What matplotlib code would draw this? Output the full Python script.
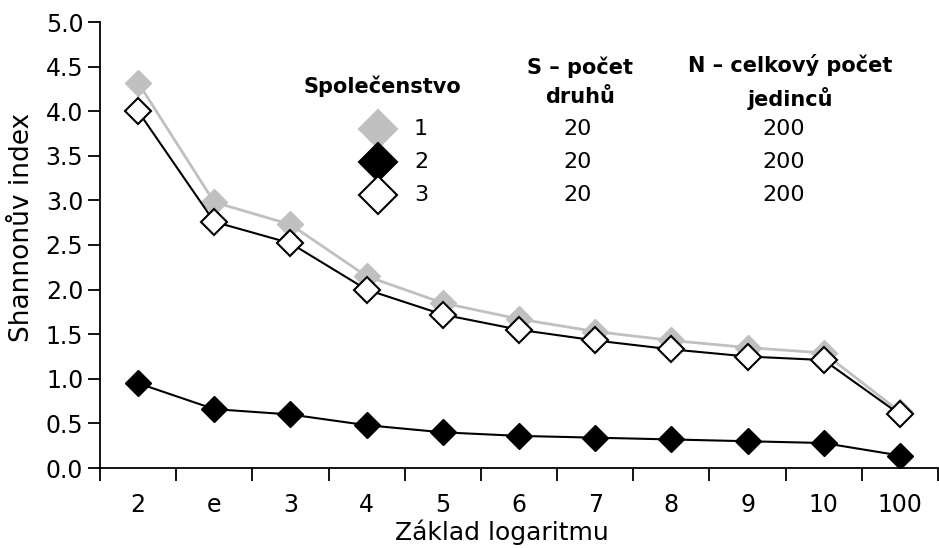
import matplotlib.pyplot as plt
from matplotlib.lines import Line2D

plt.rcParams['font.family'] = ['DejaVu Sans']

# data
bases = ['2', 'e', '3', '4', '5', '6', '7', '8', '9', '10', '100']
comm1 = [4.32, 2.98, 2.73, 2.15, 1.85, 1.67, 1.53, 1.43, 1.35, 1.29, 0.63]
comm2 = [0.95, 0.66, 0.60, 0.48, 0.40, 0.36, 0.34, 0.32, 0.30, 0.28, 0.14]
comm3 = [4.00, 2.76, 2.52, 2.00, 1.72, 1.55, 1.43, 1.33, 1.25, 1.21, 0.60]
communities = ['1', '2', '3']
species = [20, 20, 20]
individuals = [200, 200, 200]

W, H = 939, 548
fig = plt.figure(figsize=(W / 100, H / 100), dpi=100)
ax = fig.add_axes([100 / W, 1 - 468 / H, 838 / W, 446 / H])

gray = '#c0c0c0'
x = list(range(len(bases)))
ax.plot(x, comm1, color=gray, lw=2, marker='D', ms=13, mfc=gray, mec=gray, zorder=2)
ax.plot(x, comm2, color='black', lw=1.5, marker='D', ms=13, mfc='black', mec='black', zorder=3)
ax.plot(x, comm3, color='black', lw=1.5, marker='D', ms=13, mfc='white', mec='black',
        mew=1.5, zorder=4)

ax.set_xlim(-0.5, len(bases) - 0.5)
ax.set_ylim(0, 5)
ax.set_yticks([i * 0.5 for i in range(11)])
ax.set_yticklabels([f'{i * 0.5:.1f}' for i in range(11)])
ax.set_xticks(x)
ax.set_xticklabels(bases)
ax.set_xticks([i - 0.5 for i in range(len(bases) + 1)], minor=True)
ax.tick_params(axis='x', which='major', length=0, pad=18, labelsize=17)
ax.tick_params(axis='x', which='minor', length=9, width=1.3, direction='out')
ax.tick_params(axis='y', length=9, width=1.3, direction='out', labelsize=17, pad=3)
for s in ['top', 'right']:
    ax.spines[s].set_visible(False)
for s in ['left', 'bottom']:
    ax.spines[s].set_linewidth(1.3)

ax.set_ylabel('Shannonův index', fontsize=19, va='center')
ax.yaxis.set_label_coords(-78 / 838, 0.54)
ax.set_xlabel('Základ logaritmu', fontsize=18, va='center')
ax.xaxis.set_label_coords(0.48, -64 / 446)

# legend table
def fx(px):
    return px / W

def fy(py):
    return 1 - py / H

hdr = dict(fontsize=15, fontweight='bold', ha='center', va='center')
fig.text(fx(382), fy(86), 'Společenstvo', **hdr)
fig.text(fx(580), fy(82), 'S – počet\ndruhů', linespacing=1.55, **hdr)
fig.text(fx(790), fy(82), 'N – celkový počet\njedinců', linespacing=1.55, **hdr)

styles = [(gray, gray), ('black', 'black'), ('white', 'black')]
rows = [129, 162, 195]
for (fc, ec), c, s, n, ry in zip(styles, communities, species, individuals, rows):
    fig.add_artist(Line2D([fx(378)], [fy(ry)], marker='D', ms=19, mfc=fc, mec=ec,
                          mew=1.5, transform=fig.transFigure))
    body = dict(fontsize=16, va='center')
    fig.text(fx(414), fy(ry), c, ha='left', **body)
    fig.text(fx(578), fy(ry), str(s), ha='center', **body)
    fig.text(fx(784), fy(ry), str(n), ha='center', **body)

fig.savefig('out.png', dpi=100)
